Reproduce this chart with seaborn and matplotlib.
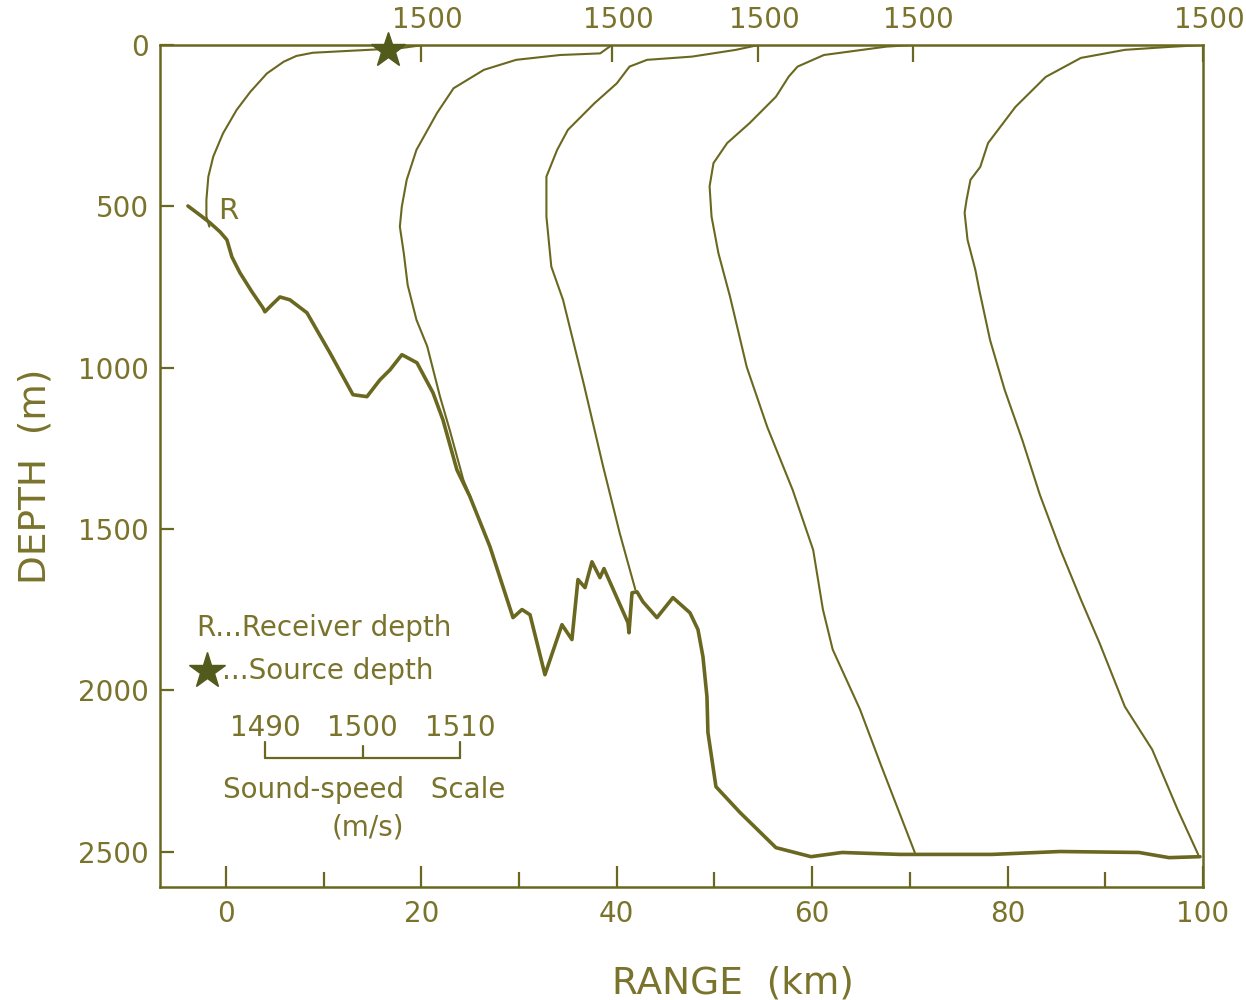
import matplotlib
matplotlib.use("Agg")
import matplotlib.pyplot as plt
import matplotlib.transforms as mtransforms
import numpy as np
import pandas as pd
import seaborn as sns

# ---------------------------------------------------------------------------
# Data
# ---------------------------------------------------------------------------
# Station ranges (km) where each sound-speed profile is plotted; the
# profile's 1500 m/s value sits on this range.
STATIONS_KM = [20.0, 39.5, 54.5, 70.3, 100.0]
REFERENCE_SPEED = 1500.0      # m/s at the station position
KM_PER_MS = 1.0               # horizontal scale: 1 m/s of sound speed = 1 km

# Sound-speed profiles (depth in m, speed in m/s)
P1_DEPTH = [0, 10, 18, 24, 34, 52, 88, 145, 201, 274, 346, 408, 480, 532, 563]
P1_SPEED = [1500.2, 1497.8, 1492.7, 1488.9, 1487.2, 1485.9, 1484.2, 1482.5,
            1481.1, 1479.7, 1478.7, 1478.2, 1478.0, 1478.0, 1478.3]

P2_DEPTH = [0, 26, 31, 46, 77, 134, 211, 325, 418, 501, 563, 645, 744, 852,
            934, 1089, 1193, 1348, 1399]
P2_SPEED = [1500.0, 1498.8, 1494.7, 1490.2, 1486.9, 1483.8, 1482.1, 1480.0,
            1479.0, 1478.5, 1478.3, 1478.7, 1479.1, 1480.0, 1481.1, 1482.4,
            1483.4, 1484.8, 1485.5]

P3_DEPTH = [0, 15, 36, 46, 67, 119, 181, 263, 325, 408, 532, 687, 790, 1048,
            1306, 1513, 1688]
P3_SPEED = [1500.0, 1497.7, 1493.2, 1488.6, 1486.8, 1485.5, 1483.2, 1480.5,
            1479.4, 1478.3, 1478.3, 1478.8, 1480.0, 1482.1, 1484.1, 1485.8,
            1487.4]

P4_DEPTH = [0, 5, 31, 67, 98, 160, 242, 304, 366, 438, 532, 645, 781, 998,
            1184, 1379, 1565, 1750, 1874, 2060, 2237, 2503]
P4_SPEED = [1500.0, 1497.3, 1490.9, 1488.2, 1487.3, 1486.0, 1483.3, 1481.0,
            1479.6, 1479.2, 1479.4, 1480.1, 1481.3, 1483.0, 1485.1, 1487.7,
            1489.8, 1490.8, 1491.8, 1494.6, 1496.8, 1500.2]

P5_DEPTH = [0, 6, 15, 40, 99, 192, 304, 378, 418, 480, 520, 604, 697, 759,
            914, 1069, 1224, 1394, 1564, 1719, 1853, 2051, 2184, 2370, 2509]
P5_SPEED = [1500.0, 1496.5, 1492.0, 1487.5, 1483.9, 1480.8, 1478.0, 1477.2,
            1476.2, 1475.8, 1475.6, 1475.9, 1476.7, 1477.1, 1478.2, 1479.7,
            1481.5, 1483.3, 1485.4, 1487.5, 1489.4, 1492.0, 1494.8, 1497.4,
            1499.5]

PROFILE_DEPTHS = [P1_DEPTH, P2_DEPTH, P3_DEPTH, P4_DEPTH, P5_DEPTH]
PROFILE_SPEEDS = [P1_SPEED, P2_SPEED, P3_SPEED, P4_SPEED, P5_SPEED]

# Bottom profile along the track (range km, depth m)
BATHY_RANGE = [-3.89, -2.66, -1.64, -0.61, 0.10, 0.61, 1.43, 2.66, 3.79, 3.99,
               4.71, 5.53, 6.55, 8.29, 10.64, 13.00, 14.43, 15.76, 16.79,
               18.01, 19.55, 21.19, 22.21, 23.64, 24.97, 27.02, 29.38, 30.30,
               31.12, 32.65, 34.39, 35.41, 36.03, 36.75, 37.46, 38.28, 38.69,
               41.15, 41.25, 41.56, 42.07, 42.68, 44.11, 45.75, 47.49, 48.31,
               48.82, 49.23, 49.33, 50.15, 52.61, 56.29, 59.88, 63.05, 68.99,
               78.40, 85.36, 93.45, 96.52, 99.69]
BATHY_DEPTH = [499, 527, 551, 579, 604, 657, 706, 765, 815, 827, 805, 781,
               790, 830, 954, 1084, 1090, 1038, 1007, 960, 985, 1078, 1162,
               1317, 1400, 1555, 1775, 1750, 1766, 1952, 1797, 1843, 1657,
               1682, 1602, 1651, 1623, 1791, 1822, 1698, 1695, 1726, 1775,
               1713, 1760, 1812, 1896, 2020, 2131, 2299, 2379, 2488, 2516,
               2503, 2509, 2509, 2500, 2503, 2519, 2516]

SOURCE_RANGE_KM = 16.6
SOURCE_DEPTH_M = 15

SCALE_SPEEDS = [1490, 1500, 1510]
SCALE_ORIGIN_KM = 4.0
SCALE_DEPTH_M = 2209

X_MAJOR = [0, 20, 40, 60, 80, 100]
X_MINOR = [10, 30, 50, 70, 90]
Y_TICKS = [0, 500, 1000, 1500, 2000, 2500]

# ---------------------------------------------------------------------------
# Styling
# ---------------------------------------------------------------------------
sns.set_theme(style="white")
plt.rcParams["font.family"] = ["DejaVu Sans"]

INK = "#6a6820"
TEXT = "#7a732c"
STAR = "#525a1c"

fig = plt.figure(figsize=(12.46, 10), dpi=100)
fig.patch.set_facecolor("white")
ax = fig.add_axes([0.1284, 0.113, 0.8371, 0.842])
ax.set_facecolor("white")

# Sound-speed profiles, each drawn about its station range
for st, dep, spd in zip(STATIONS_KM, PROFILE_DEPTHS, PROFILE_SPEEDS):
    df = pd.DataFrame({"depth": dep, "speed": spd})
    df["x"] = st + (df["speed"] - REFERENCE_SPEED) * KM_PER_MS
    sns.lineplot(data=df, x="x", y="depth", sort=False, estimator=None,
                 color=INK, linewidth=1.5, ax=ax)

# Bottom
bathy = pd.DataFrame({"range": BATHY_RANGE, "depth": BATHY_DEPTH})
sns.lineplot(data=bathy, x="range", y="depth", sort=False, estimator=None,
             color=INK, linewidth=2.6, ax=ax)

# Source position
ax.plot([SOURCE_RANGE_KM], [SOURCE_DEPTH_M], marker="*", markersize=26,
        color=STAR, linestyle="none", clip_on=False, zorder=5)

ax.set_xlim(-6.75, 100)
ax.set_ylim(2610, 0)

# Axes frame and ticks
for sp in ax.spines.values():
    sp.set_color(INK)
    sp.set_linewidth(1.8)

ax.set_xticks(X_MAJOR)
ax.set_xticks(X_MINOR, minor=True)
ax.set_yticks(Y_TICKS)
ax.set_xticklabels([str(v) for v in X_MAJOR])
ax.set_yticklabels([str(v) for v in Y_TICKS])
ax.tick_params(axis="x", which="major", direction="in", length=15, width=1.6,
               color=INK, labelcolor=TEXT, labelsize=20, pad=9,
               bottom=True, top=False)
ax.tick_params(axis="x", which="minor", direction="in", length=11, width=1.6,
               color=INK, bottom=True, top=False)
ax.tick_params(axis="y", which="major", direction="in", length=10, width=1.6,
               color=INK, labelcolor=TEXT, labelsize=20, pad=8,
               left=True, right=False)
ax.grid(False)

ax.set_xlabel("RANGE  (km)", fontsize=27, color=TEXT)
ax.set_ylabel("DEPTH  (m)", fontsize=27, color=TEXT)
ax.xaxis.set_label_coords(0.549, -0.093)
ax.yaxis.set_label_coords(-0.102, 0.488)

# 1500 m/s markers along the top edge
top = ax.twiny()
top.set_xlim(ax.get_xlim())
top.set_xticks(STATIONS_KM)
top.set_xticklabels([f"{REFERENCE_SPEED:.0f}"] * len(STATIONS_KM))
top.tick_params(axis="x", direction="in", length=12, width=1.6, color=INK,
                labelcolor=TEXT, labelsize=20, pad=8)
shift = mtransforms.ScaledTranslation(6 / 100, 0, fig.dpi_scale_trans)
for lbl in top.get_xticklabels():
    lbl.set_transform(lbl.get_transform() + shift)
for sp in top.spines.values():
    sp.set_visible(False)
top.grid(False)

# Receiver label
ax.text(-0.8, 514, "R", fontsize=21, color=TEXT, ha="left", va="center")

# Key
ax.text(-3.0, 1806, "R...Receiver depth", fontsize=20, color=TEXT,
        ha="left", va="center")
ax.plot([-1.94], [1942], marker="*", markersize=27, color=STAR,
        linestyle="none")
ax.text(-0.4, 1942, "...Source depth", fontsize=20, color=TEXT,
        ha="left", va="center")

# Sound-speed scale bar
scale_x = [SCALE_ORIGIN_KM + (v - SCALE_SPEEDS[0]) * KM_PER_MS
           for v in SCALE_SPEEDS]
ax.plot([scale_x[0], scale_x[-1]], [SCALE_DEPTH_M, SCALE_DEPTH_M],
        color=INK, linewidth=1.6)
for i, (sx, v) in enumerate(zip(scale_x, SCALE_SPEEDS)):
    tick_top = SCALE_DEPTH_M - (48 if i != 1 else 36)
    ax.plot([sx, sx], [SCALE_DEPTH_M, tick_top], color=INK, linewidth=1.6)
    ax.text(sx, 2116, str(v), fontsize=20, color=TEXT,
            ha="center", va="center")
ax.text(14.2, 2308, "Sound-speed   Scale", fontsize=20, color=TEXT,
        ha="center", va="center")
ax.text(14.5, 2426, "(m/s)", fontsize=20, color=TEXT,
        ha="center", va="center")

fig.savefig("out.png", dpi=100, facecolor="white")
